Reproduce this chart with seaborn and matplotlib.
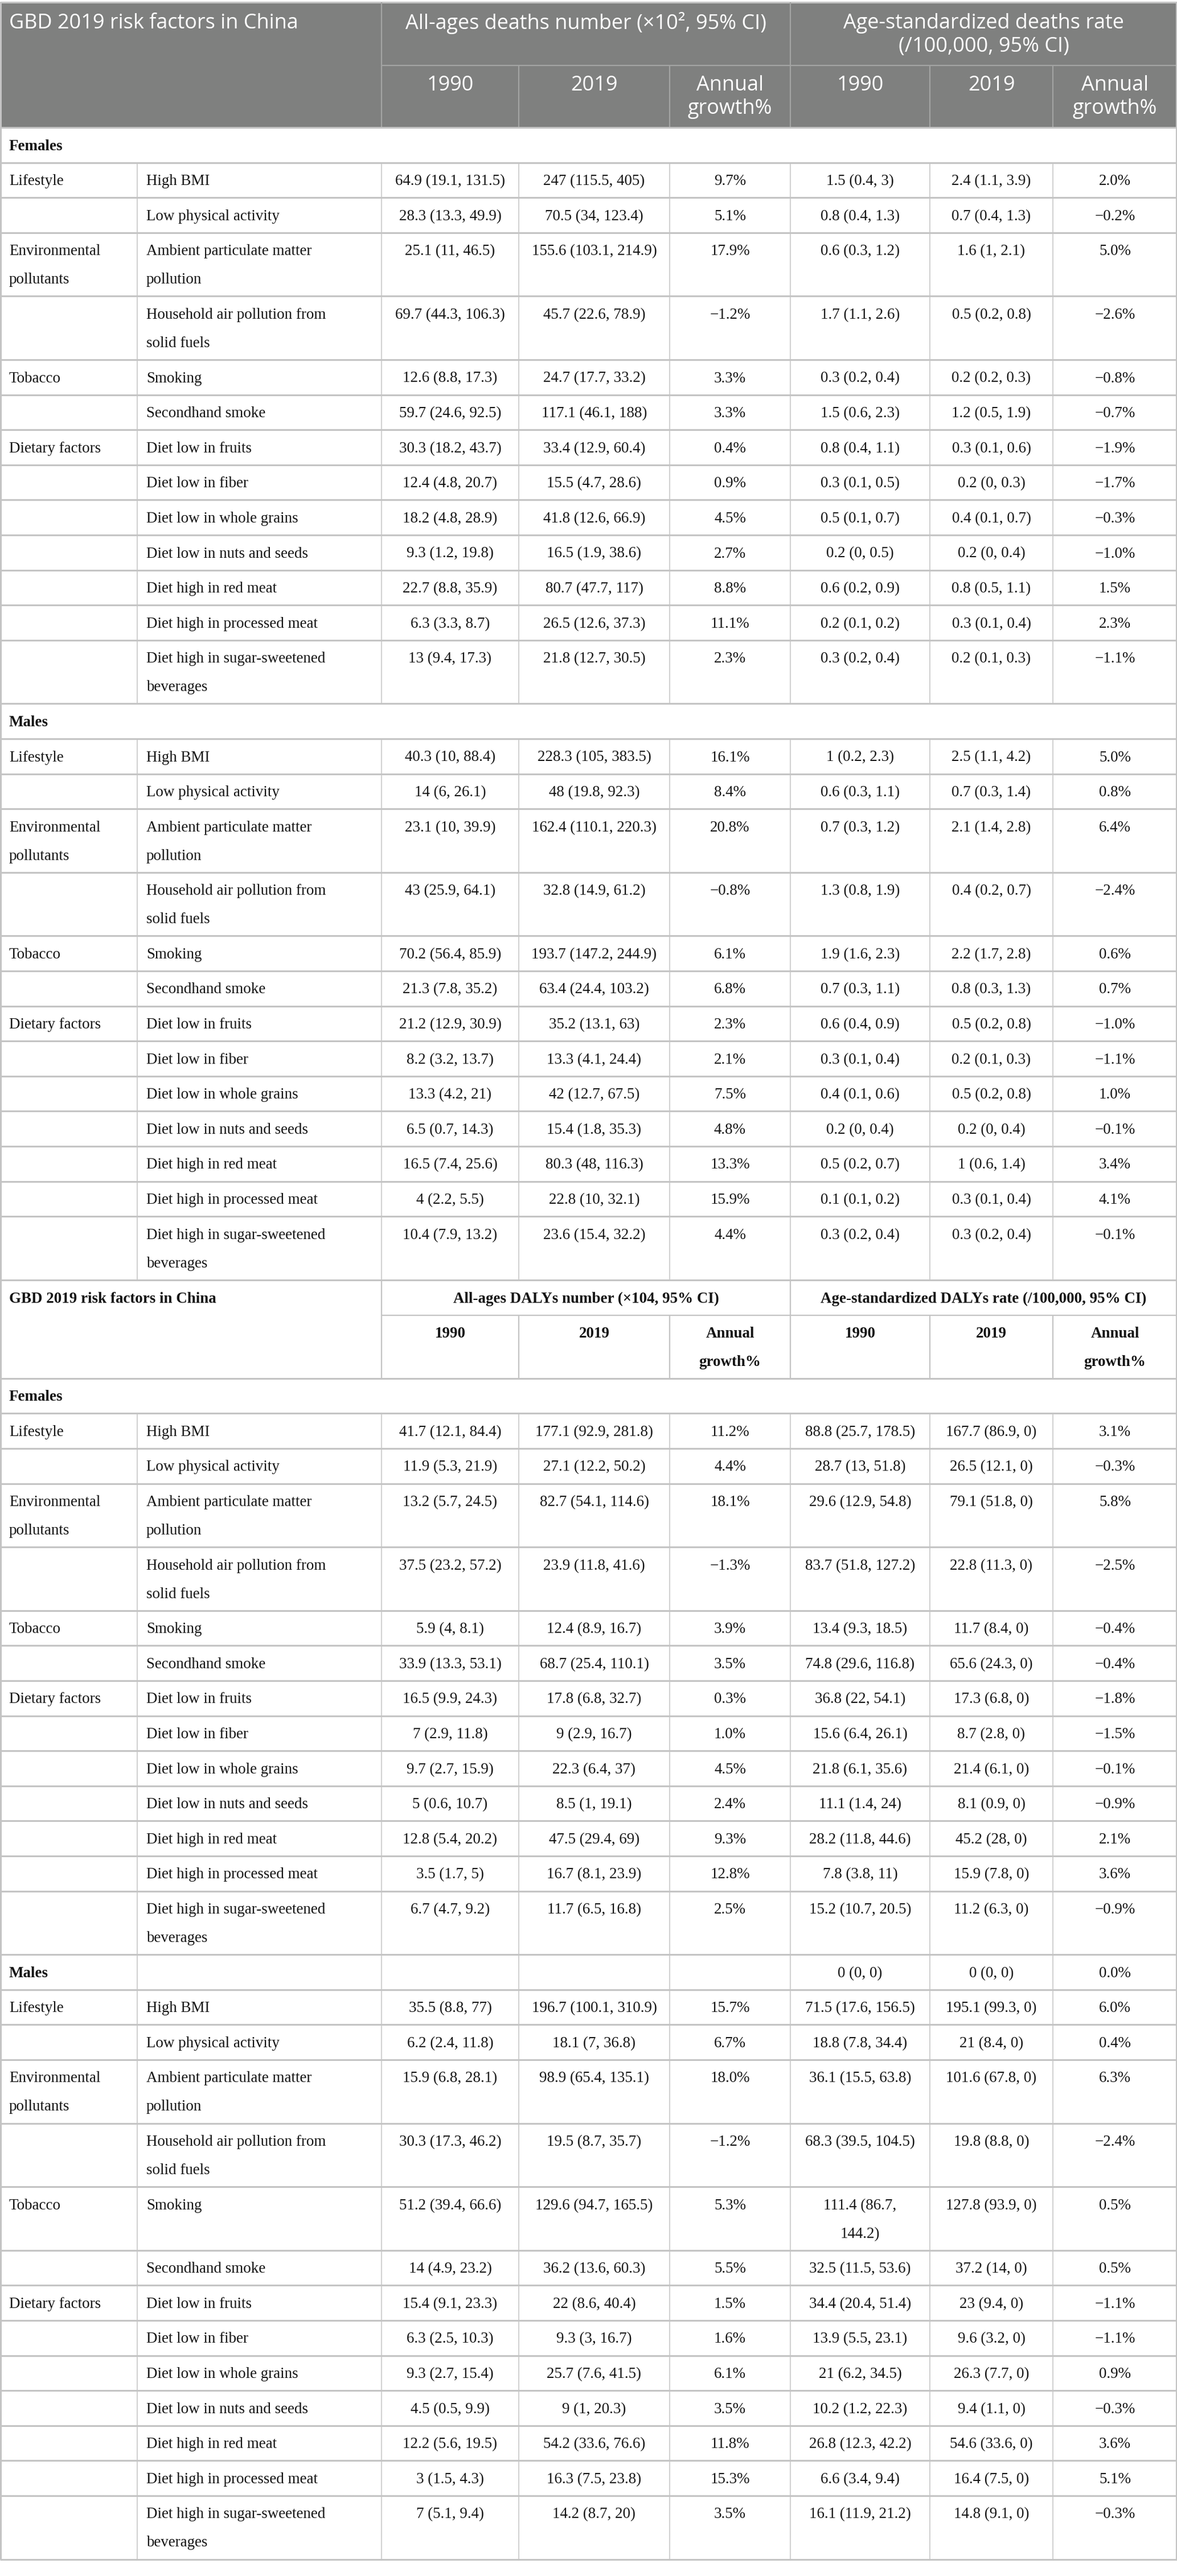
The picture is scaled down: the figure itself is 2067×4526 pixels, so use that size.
import numpy as np
import pandas as pd
import seaborn as sns
import matplotlib.pyplot as plt

# ---------------- data ----------------
categories = ["Lifestyle", "", "Environmental\npollutants", "", "Tobacco", "",
              "Dietary factors", "", "", "", "", "", ""]
risks = ["High BMI", "Low physical activity", "Ambient particulate matter\npollution",
         "Household air pollution from\nsolid fuels", "Smoking", "Secondhand smoke",
         "Diet low in fruits", "Diet low in fiber", "Diet low in whole grains",
         "Diet low in nuts and seeds", "Diet high in red meat", "Diet high in processed meat",
         "Diet high in sugar-sweetened\nbeverages"]

# deaths, females
d_f_n1990 = ["64.9 (19.1, 131.5)", "28.3 (13.3, 49.9)", "25.1 (11, 46.5)", "69.7 (44.3, 106.3)",
             "12.6 (8.8, 17.3)", "59.7 (24.6, 92.5)", "30.3 (18.2, 43.7)", "12.4 (4.8, 20.7)",
             "18.2 (4.8, 28.9)", "9.3 (1.2, 19.8)", "22.7 (8.8, 35.9)", "6.3 (3.3, 8.7)", "13 (9.4, 17.3)"]
d_f_n2019 = ["247 (115.5, 405)", "70.5 (34, 123.4)", "155.6 (103.1, 214.9)", "45.7 (22.6, 78.9)",
             "24.7 (17.7, 33.2)", "117.1 (46.1, 188)", "33.4 (12.9, 60.4)", "15.5 (4.7, 28.6)",
             "41.8 (12.6, 66.9)", "16.5 (1.9, 38.6)", "80.7 (47.7, 117)", "26.5 (12.6, 37.3)",
             "21.8 (12.7, 30.5)"]
d_f_ngr = ["9.7%", "5.1%", "17.9%", "\u22121.2%", "3.3%", "3.3%", "0.4%", "0.9%", "4.5%", "2.7%",
           "8.8%", "11.1%", "2.3%"]
d_f_r1990 = ["1.5 (0.4, 3)", "0.8 (0.4, 1.3)", "0.6 (0.3, 1.2)", "1.7 (1.1, 2.6)", "0.3 (0.2, 0.4)",
             "1.5 (0.6, 2.3)", "0.8 (0.4, 1.1)", "0.3 (0.1, 0.5)", "0.5 (0.1, 0.7)", "0.2 (0, 0.5)",
             "0.6 (0.2, 0.9)", "0.2 (0.1, 0.2)", "0.3 (0.2, 0.4)"]
d_f_r2019 = ["2.4 (1.1, 3.9)", "0.7 (0.4, 1.3)", "1.6 (1, 2.1)", "0.5 (0.2, 0.8)", "0.2 (0.2, 0.3)",
             "1.2 (0.5, 1.9)", "0.3 (0.1, 0.6)", "0.2 (0, 0.3)", "0.4 (0.1, 0.7)", "0.2 (0, 0.4)",
             "0.8 (0.5, 1.1)", "0.3 (0.1, 0.4)", "0.2 (0.1, 0.3)"]
d_f_rgr = ["2.0%", "\u22120.2%", "5.0%", "\u22122.6%", "\u22120.8%", "\u22120.7%", "\u22121.9%",
           "\u22121.7%", "\u22120.3%", "\u22121.0%", "1.5%", "2.3%", "\u22121.1%"]

# deaths, males
d_m_n1990 = ["40.3 (10, 88.4)", "14 (6, 26.1)", "23.1 (10, 39.9)", "43 (25.9, 64.1)",
             "70.2 (56.4, 85.9)", "21.3 (7.8, 35.2)", "21.2 (12.9, 30.9)", "8.2 (3.2, 13.7)",
             "13.3 (4.2, 21)", "6.5 (0.7, 14.3)", "16.5 (7.4, 25.6)", "4 (2.2, 5.5)", "10.4 (7.9, 13.2)"]
d_m_n2019 = ["228.3 (105, 383.5)", "48 (19.8, 92.3)", "162.4 (110.1, 220.3)", "32.8 (14.9, 61.2)",
             "193.7 (147.2, 244.9)", "63.4 (24.4, 103.2)", "35.2 (13.1, 63)", "13.3 (4.1, 24.4)",
             "42 (12.7, 67.5)", "15.4 (1.8, 35.3)", "80.3 (48, 116.3)", "22.8 (10, 32.1)",
             "23.6 (15.4, 32.2)"]
d_m_ngr = ["16.1%", "8.4%", "20.8%", "\u22120.8%", "6.1%", "6.8%", "2.3%", "2.1%", "7.5%", "4.8%",
           "13.3%", "15.9%", "4.4%"]
d_m_r1990 = ["1 (0.2, 2.3)", "0.6 (0.3, 1.1)", "0.7 (0.3, 1.2)", "1.3 (0.8, 1.9)", "1.9 (1.6, 2.3)",
             "0.7 (0.3, 1.1)", "0.6 (0.4, 0.9)", "0.3 (0.1, 0.4)", "0.4 (0.1, 0.6)", "0.2 (0, 0.4)",
             "0.5 (0.2, 0.7)", "0.1 (0.1, 0.2)", "0.3 (0.2, 0.4)"]
d_m_r2019 = ["2.5 (1.1, 4.2)", "0.7 (0.3, 1.4)", "2.1 (1.4, 2.8)", "0.4 (0.2, 0.7)", "2.2 (1.7, 2.8)",
             "0.8 (0.3, 1.3)", "0.5 (0.2, 0.8)", "0.2 (0.1, 0.3)", "0.5 (0.2, 0.8)", "0.2 (0, 0.4)",
             "1 (0.6, 1.4)", "0.3 (0.1, 0.4)", "0.3 (0.2, 0.4)"]
d_m_rgr = ["5.0%", "0.8%", "6.4%", "\u22122.4%", "0.6%", "0.7%", "\u22121.0%", "\u22121.1%", "1.0%",
           "\u22120.1%", "3.4%", "4.1%", "\u22120.1%"]

# DALYs, females
y_f_n1990 = ["41.7 (12.1, 84.4)", "11.9 (5.3, 21.9)", "13.2 (5.7, 24.5)", "37.5 (23.2, 57.2)",
             "5.9 (4, 8.1)", "33.9 (13.3, 53.1)", "16.5 (9.9, 24.3)", "7 (2.9, 11.8)",
             "9.7 (2.7, 15.9)", "5 (0.6, 10.7)", "12.8 (5.4, 20.2)", "3.5 (1.7, 5)", "6.7 (4.7, 9.2)"]
y_f_n2019 = ["177.1 (92.9, 281.8)", "27.1 (12.2, 50.2)", "82.7 (54.1, 114.6)", "23.9 (11.8, 41.6)",
             "12.4 (8.9, 16.7)", "68.7 (25.4, 110.1)", "17.8 (6.8, 32.7)", "9 (2.9, 16.7)",
             "22.3 (6.4, 37)", "8.5 (1, 19.1)", "47.5 (29.4, 69)", "16.7 (8.1, 23.9)", "11.7 (6.5, 16.8)"]
y_f_ngr = ["11.2%", "4.4%", "18.1%", "\u22121.3%", "3.9%", "3.5%", "0.3%", "1.0%", "4.5%", "2.4%",
           "9.3%", "12.8%", "2.5%"]
y_f_r1990 = ["88.8 (25.7, 178.5)", "28.7 (13, 51.8)", "29.6 (12.9, 54.8)", "83.7 (51.8, 127.2)",
             "13.4 (9.3, 18.5)", "74.8 (29.6, 116.8)", "36.8 (22, 54.1)", "15.6 (6.4, 26.1)",
             "21.8 (6.1, 35.6)", "11.1 (1.4, 24)", "28.2 (11.8, 44.6)", "7.8 (3.8, 11)",
             "15.2 (10.7, 20.5)"]
y_f_r2019 = ["167.7 (86.9, 0)", "26.5 (12.1, 0)", "79.1 (51.8, 0)", "22.8 (11.3, 0)", "11.7 (8.4, 0)",
             "65.6 (24.3, 0)", "17.3 (6.8, 0)", "8.7 (2.8, 0)", "21.4 (6.1, 0)", "8.1 (0.9, 0)",
             "45.2 (28, 0)", "15.9 (7.8, 0)", "11.2 (6.3, 0)"]
y_f_rgr = ["3.1%", "\u22120.3%", "5.8%", "\u22122.5%", "\u22120.4%", "\u22120.4%", "\u22121.8%",
           "\u22121.5%", "\u22120.1%", "\u22120.9%", "2.1%", "3.6%", "\u22120.9%"]

# DALYs, males
y_m_head = ["", "", "", "0 (0, 0)", "0 (0, 0)", "0.0%"]
y_m_n1990 = ["35.5 (8.8, 77)", "6.2 (2.4, 11.8)", "15.9 (6.8, 28.1)", "30.3 (17.3, 46.2)",
             "51.2 (39.4, 66.6)", "14 (4.9, 23.2)", "15.4 (9.1, 23.3)", "6.3 (2.5, 10.3)",
             "9.3 (2.7, 15.4)", "4.5 (0.5, 9.9)", "12.2 (5.6, 19.5)", "3 (1.5, 4.3)", "7 (5.1, 9.4)"]
y_m_n2019 = ["196.7 (100.1, 310.9)", "18.1 (7, 36.8)", "98.9 (65.4, 135.1)", "19.5 (8.7, 35.7)",
             "129.6 (94.7, 165.5)", "36.2 (13.6, 60.3)", "22 (8.6, 40.4)", "9.3 (3, 16.7)",
             "25.7 (7.6, 41.5)", "9 (1, 20.3)", "54.2 (33.6, 76.6)", "16.3 (7.5, 23.8)", "14.2 (8.7, 20)"]
y_m_ngr = ["15.7%", "6.7%", "18.0%", "\u22121.2%", "5.3%", "5.5%", "1.5%", "1.6%", "6.1%", "3.5%",
           "11.8%", "15.3%", "3.5%"]
y_m_r1990 = ["71.5 (17.6, 156.5)", "18.8 (7.8, 34.4)", "36.1 (15.5, 63.8)", "68.3 (39.5, 104.5)",
             "111.4 (86.7,\n144.2)", "32.5 (11.5, 53.6)", "34.4 (20.4, 51.4)", "13.9 (5.5, 23.1)",
             "21 (6.2, 34.5)", "10.2 (1.2, 22.3)", "26.8 (12.3, 42.2)", "6.6 (3.4, 9.4)",
             "16.1 (11.9, 21.2)"]
y_m_r2019 = ["195.1 (99.3, 0)", "21 (8.4, 0)", "101.6 (67.8, 0)", "19.8 (8.8, 0)", "127.8 (93.9, 0)",
             "37.2 (14, 0)", "23 (9.4, 0)", "9.6 (3.2, 0)", "26.3 (7.7, 0)", "9.4 (1.1, 0)",
             "54.6 (33.6, 0)", "16.4 (7.5, 0)", "14.8 (9.1, 0)"]
y_m_rgr = ["6.0%", "0.4%", "6.3%", "\u22122.4%", "0.5%", "0.5%", "\u22121.1%", "\u22121.1%", "0.9%",
           "\u22120.3%", "3.6%", "5.1%", "\u22120.3%"]

title = "GBD 2019 risk factors in China"
head1 = ["All-ages deaths number (\u00d710\u00b2, 95% CI)", "Age-standardized deaths rate\n(/100,000, 95% CI)"]
head2 = ["All-ages DALYs number (\u00d7104, 95% CI)", "Age-standardized DALYs rate (/100,000, 95% CI)"]
subheads = ["1990", "2019", "Annual\ngrowth%", "1990", "2019", "Annual\ngrowth%"]

cols = ["cat", "risk", "n1990", "n2019", "ngr", "r1990", "r2019", "rgr"]


def block(vals):
    return pd.DataFrame(dict(zip(cols, [categories, risks] + vals)))


deaths = [("Females", None, block([d_f_n1990, d_f_n2019, d_f_ngr, d_f_r1990, d_f_r2019, d_f_rgr])),
          ("Males", None, block([d_m_n1990, d_m_n2019, d_m_ngr, d_m_r1990, d_m_r2019, d_m_rgr]))]
dalys = [("Females", None, block([y_f_n1990, y_f_n2019, y_f_ngr, y_f_r1990, y_f_r2019, y_f_rgr])),
         ("Males", y_m_head, block([y_m_n1990, y_m_n2019, y_m_ngr, y_m_r1990, y_m_r2019, y_m_rgr]))]

# ---------------- drawing ----------------
sns.set_theme(style="white")
W, H = 2067, 4526
PX = 72 / 100  # px -> pt at dpi 100
serif = ["Liberation Serif", "DejaVu Serif"]
sans = ["Open Sans", "DejaVu Sans"]
body_fs = 27 * PX
head_fs = 36 * PX
line_c = "#c4c4c4"
head_bg = "#7f807f"
head_line = "#a3a4a3"
ink = "#141414"

xs = [0, 241, 670, 911, 1176, 1388, 1633, 1849, W]
row1, row_step = 61.6, 50.0

fig = plt.figure(figsize=(W / 100, H / 100), dpi=100)
ax = fig.add_axes([0, 0, 1, 1])
ax.set_xlim(0, W)
ax.set_ylim(H, 0)
ax.axis("off")


def cell_text(x, top, s, ha="center", **kw):
    for i, part in enumerate(s.split("\n")):
        ax.text(x, top + 33 + row_step * i, part, ha=ha, va="center",
                fontsize=body_fs, family=serif, color=ink, **kw)


def nlines(values):
    return max(v.count("\n") + 1 for v in values)


def draw_header(top, styled):
    t_h, s_h = (111, 109) if styled else (62, 111)
    mid, bot = top + t_h, top + t_h + s_h
    if styled:
        ax.fill_between([0, W], top, bot, color=head_bg, lw=0, zorder=0)
        lc, kw = head_line, dict(family=sans, color="white", fontsize=head_fs)
        ty, dy = top + 37, 41
        sy = mid + 35
    else:
        lc, kw = line_c, dict(family=serif, color=ink, fontsize=body_fs, fontweight="bold")
        ty, dy = top + 34, 50
        sy = mid + 33
    ax.vlines([xs[2], xs[5]], top, bot, color=lc, lw=1.6)
    ax.vlines([xs[3], xs[4], xs[6], xs[7]], mid, bot, color=lc, lw=1.6)
    ax.hlines(mid, xs[2], W, color=lc, lw=1.6)
    ax.text(16, ty, title, ha="left", va="center", **kw)
    heads = head1 if styled else head2
    for k, h in enumerate(heads):
        cx = (xs[2 + 3 * k] + xs[5 + 3 * k]) / 2
        for i, part in enumerate(h.split("\n")):
            ax.text(cx, ty + dy * i, part, ha="center", va="center", **kw)
    for j, s in enumerate(subheads):
        cx = (xs[2 + j] + xs[3 + j]) / 2
        for i, part in enumerate(s.split("\n")):
            ax.text(cx, sy + dy * i, part, ha="center", va="center", **kw)
    ax.hlines(bot, 0, W, color=line_c, lw=2.2)
    return bot


def draw_sections(top, sections):
    y = top
    for name, head_vals, df in sections:
        h = row1
        ax.text(16, y + 33, name, ha="left", va="center", fontsize=body_fs,
                family=serif, fontweight="bold", color=ink)
        if head_vals is not None:
            for j, v in enumerate(head_vals):
                if v:
                    cell_text((xs[2 + j] + xs[3 + j]) / 2, y, v)
            ax.vlines(xs[1:-1], y, y + h, color=line_c, lw=1.1)
        y += h
        ax.hlines(y, 0, W, color=line_c, lw=2.2)
        for _, r in df.iterrows():
            vals = list(r[cols])
            h = row1 + row_step * (nlines(vals) - 1)
            cell_text(16, y, r["cat"], ha="left")
            cell_text(257, y, r["risk"], ha="left")
            for j, c in enumerate(cols[2:]):
                cell_text((xs[2 + j] + xs[3 + j]) / 2, y, r[c])
            ax.vlines(xs[1:-1], y, y + h, color=line_c, lw=1.1)
            y += h
            ax.hlines(y, 0, W, color=line_c, lw=2.2)
    return y


top = 4
ax.hlines(top, 0, W, color=line_c, lw=2.2)
y = draw_header(top, True)
y = draw_sections(y, deaths)
y = draw_header(y, False)
bottom = draw_sections(y, dalys)
ax.vlines([1, W - 1.5], top, bottom, color=line_c, lw=2.2)

fig.savefig("out.png", dpi=100, facecolor="white")
